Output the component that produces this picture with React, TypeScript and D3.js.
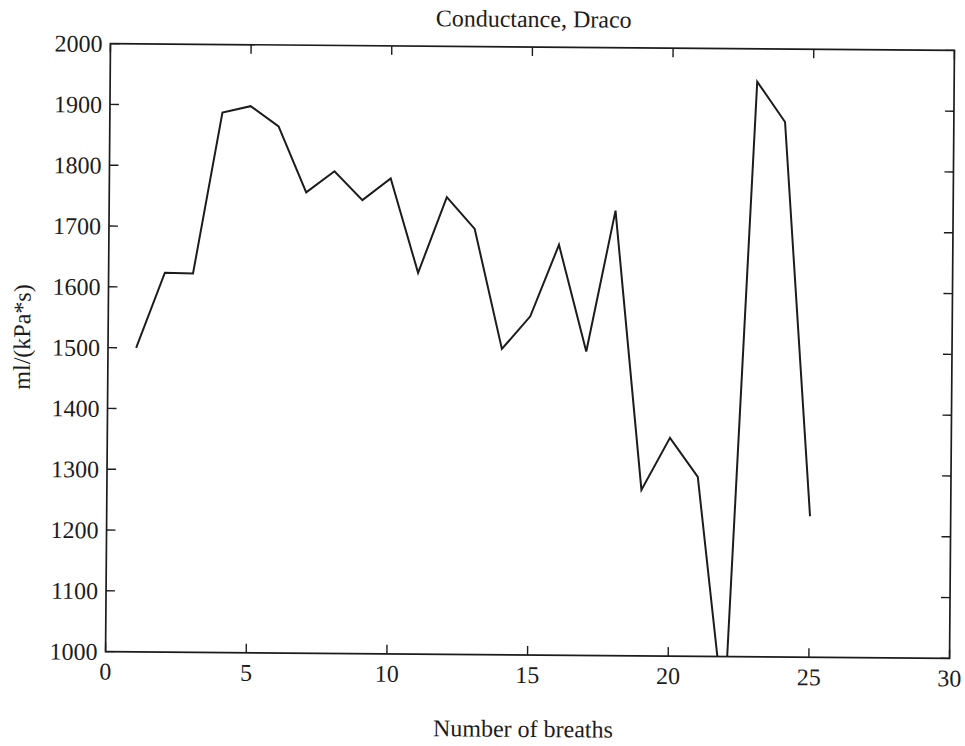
import React from "react";
import * as d3 from "d3";

const breaths = [1, 2, 3, 4, 5, 6, 7, 8, 9, 10, 11, 12, 13, 14, 15, 16, 17, 18, 19, 20, 21, 22, 23, 24, 25];
const conductance = [1500, 1624, 1623, 1888, 1899, 1866, 1758, 1793, 1746, 1782, 1627, 1752, 1700, 1503, 1557, 1675, 1500, 1732, 1273, 1359, 1295, 900, 1946, 1880, 1232];
const xTicks = [0, 5, 10, 15, 20, 25, 30];
const yTicks = [1000, 1100, 1200, 1300, 1400, 1500, 1600, 1700, 1800, 1900, 2000];
const title = "Conductance, Draco";
const xLabel = "Number of breaths";
const yLabel = "ml/(kPa*s)";

const W = 965;
const H = 746;
const left = 108;
const right = 952;
const top = 47;
const bottom = 655;
const tickLen = 9;
const ink = "#1c1c1c";
const font = "'Liberation Serif', 'DejaVu Serif', serif";

export default function App() {
  const x = d3.scaleLinear().domain([0, 30]).range([left, right]);
  const y = d3.scaleLinear().domain([1000, 2000]).range([bottom, top]);
  const line = d3
    .line<number>()
    .x((_, i) => x(breaths[i]))
    .y((d) => y(d));
  const cx = (left + right) / 2;
  const cy = (top + bottom) / 2;
  return (
    <svg
      width={W}
      height={H}
      style={{ position: "absolute", left: 0, top: 0, background: "#fff" }}
    >
      <defs>
        <clipPath id="plotClip">
          <rect x={left} y={top} width={right - left} height={bottom - top} />
        </clipPath>
      </defs>
      <g transform={`rotate(0.46, ${cx}, ${cy})`} fontFamily={font} fill={ink}>
        <text x={cx + 1} y={27} textAnchor="middle" fontSize={24}>
          {title}
        </text>
        <rect
          x={left}
          y={top}
          width={right - left}
          height={bottom - top}
          fill="none"
          stroke={ink}
          strokeWidth={1.7}
        />
        {xTicks.map((t) => (
          <g key={"x" + t}>
            <line x1={x(t)} x2={x(t)} y1={bottom} y2={bottom - tickLen} stroke={ink} strokeWidth={1.4} />
            <line x1={x(t)} x2={x(t)} y1={top} y2={top + tickLen} stroke={ink} strokeWidth={1.4} />
            <text x={x(t)} y={bottom + 28} textAnchor="middle" fontSize={24}>
              {t}
            </text>
          </g>
        ))}
        {yTicks.map((t) => (
          <g key={"y" + t}>
            <line x1={left} x2={left + tickLen} y1={y(t)} y2={y(t)} stroke={ink} strokeWidth={1.4} />
            <line x1={right} x2={right - tickLen} y1={y(t)} y2={y(t)} stroke={ink} strokeWidth={1.4} />
            <text x={left - 8} y={y(t)} dy="0.35em" textAnchor="end" fontSize={24}>
              {t}
            </text>
          </g>
        ))}
        <path
          d={line(conductance) || ""}
          fill="none"
          stroke={ink}
          strokeWidth={2}
          strokeLinejoin="miter"
          clipPath="url(#plotClip)"
        />
        <text x={cx - 4} y={737} textAnchor="middle" fontSize={24}>
          {xLabel}
        </text>
        <text
          transform={`translate(30, 341) rotate(-90)`}
          textAnchor="middle"
          fontSize={24}
        >
          {yLabel}
        </text>
      </g>
    </svg>
  );
}
